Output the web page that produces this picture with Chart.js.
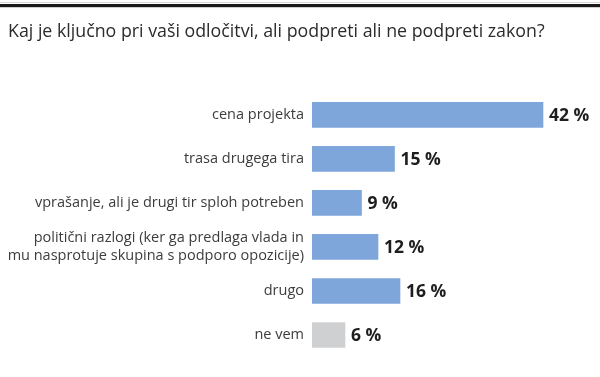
<!DOCTYPE html>
<html>
<head>
<meta charset="utf-8">
<script src="https://cdn.jsdelivr.net/npm/chart.js@4"></script>
<style>
html,body{margin:0;padding:0;background:#fff;}
#wrap{width:600px;height:377px;position:relative;}
</style>
</head>
<body>
<div id="wrap"><canvas id="c" width="600" height="377"></canvas></div>
<script>
const titleText = "Kaj je ključno pri vaši odločitvi, ali podpreti ali ne podpreti zakon?";
const categories = [
  "cena projekta",
  "trasa drugega tira",
  "vprašanje, ali je drugi tir sploh potreben",
  ["politični razlogi (ker ga predlaga vlada in", "mu nasprotuje skupina s podporo opozicije)"],
  "drugo",
  "ne vem"
];
const values = [42, 15, 9, 12, 16, 6];
const barColors = ["#7ea6da", "#7ea6da", "#7ea6da", "#7ea6da", "#7ea6da", "#cfd0d2"];

const FONT = "'Open Sans', sans-serif";

const topLine = {
  id: 'topLine',
  beforeDraw(chart) {
    const ctx = chart.ctx;
    ctx.save();
    ctx.fillStyle = '#d8d8d8';
    ctx.fillRect(0, 2, chart.width, 1);
    ctx.fillStyle = '#1a1a1a';
    ctx.fillRect(0, 4, chart.width, 3);
    ctx.fillStyle = '#cfcfcf';
    ctx.fillRect(0, 7, chart.width, 1);
    ctx.restore();
  }
};

const valueLabels = {
  id: 'valueLabels',
  afterDatasetsDraw(chart) {
    const ctx = chart.ctx;
    const meta = chart.getDatasetMeta(0);
    ctx.save();
    ctx.font = "bold 17.5px " + FONT;
    ctx.fillStyle = '#1e1e1e';
    ctx.textAlign = 'left';
    ctx.textBaseline = 'middle';
    meta.data.forEach((bar, i) => {
      ctx.fillText(values[i] + ' %', bar.x + 6, bar.y + 1);
    });
    ctx.restore();
  }
};

new Chart(document.getElementById('c'), {
  type: 'bar',
  data: {
    labels: categories,
    datasets: [{
      data: values,
      backgroundColor: barColors,
      borderWidth: 0,
      barThickness: 25
    }]
  },
  options: {
    indexAxis: 'y',
    responsive: false,
    animation: false,
    layout: { padding: { left: 8, right: 13, top: 0, bottom: 20 } },
    plugins: {
      legend: { display: false },
      tooltip: { enabled: false },
      title: {
        display: true,
        text: titleText,
        align: 'start',
        color: '#2b2b2b',
        font: { family: FONT, size: 17.8, weight: 'normal', lineHeight: 1.2 },
        padding: { top: 21, bottom: 50.5 }
      }
    },
    scales: {
      x: {
        display: false,
        min: 0,
        max: 50
      },
      y: {
        grid: { display: false, drawTicks: false },
        border: { display: false },
        ticks: {
          color: '#3c3c3c',
          font: { family: FONT, size: 14.5, lineHeight: 1.24 },
          padding: 8
        },
        afterFit(scale) { scale.width = 304; }
      }
    }
  },
  plugins: [topLine, valueLabels]
});
</script>
</body>
</html>
